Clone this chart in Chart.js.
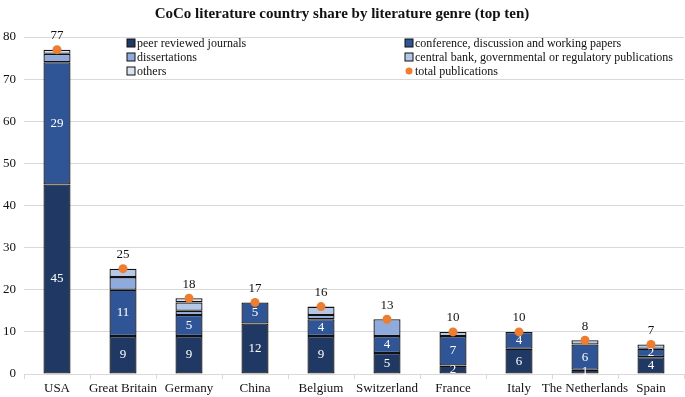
<!DOCTYPE html>
<html><head><meta charset="utf-8">
<script src="https://cdn.jsdelivr.net/npm/chart.js@4"></script>
<style>html,body{margin:0;padding:0;background:#fff}#wrap{width:685px;height:397px;position:relative}</style>
</head><body><div id="wrap"><canvas id="c"></canvas></div>
<script>
const categories = ['USA','Great Britain','Germany','China','Belgium','Switzerland','France','Italy','The Netherlands','Spain'];
const peerReviewed = [45,9,9,12,9,5,2,6,1,4];
const conference = [29,11,5,5,4,4,7,4,6,2];
const dissertations = [2,3,1,0,1,4,0,0,0,0];
const centralBank = [0,2,2,0,2,0,1,0,1,1];
const others = [1,0,1,0,0,0,0,0,0,0];
const totals = [77,25,18,17,16,13,10,10,8,7];
const yTicks = [0,10,20,30,40,50,60,70,80];

const FONT = "'Liberation Serif','Times New Roman',serif";
const colors = {peer:'#203864', conf:'#2F5597', diss:'#8FAADC', cb:'#B4C7E7', oth:'#DAE3F3', tot:'#ED7D31'};

function barSet(label, data, color, showLabels){
  return {type:'bar', label, data, backgroundColor:color, borderColor:'#111', borderWidth:1.3,
    borderSkipped:false, stack:'s', barPercentage:0.41, categoryPercentage:1, showLabels, order:2};
}

const labelPlugin = {
  id:'labels',
  afterDatasetsDraw(chart){
    const ctx = chart.ctx;
    ctx.save();
    ctx.textAlign='center'; ctx.textBaseline='middle';
    chart.data.datasets.forEach((ds,i)=>{
      const meta = chart.getDatasetMeta(i);
      if(ds.showLabels){
        ctx.fillStyle='#fff'; ctx.font="13px "+FONT;
        meta.data.forEach((el,j)=>{
          if(!ds.data[j]) return;
          const y=(el.y+el.base)/2;
          ctx.fillText(String(ds.data[j]), el.x, y);
        });
      }
      if(ds.totalLabels){
        ctx.fillStyle='#111'; ctx.font="13px "+FONT;
        meta.data.forEach((el,j)=>{
          ctx.fillText(String(ds.data[j]), el.x, el.y-14);
        });
      }
    });
    // legend
    const items = [
      ['peer reviewed journals',colors.peer,131,43,'box'],
      ['conference, discussion and working papers',colors.conf,409,43,'box'],
      ['dissertations',colors.diss,131,57,'box'],
      ['central bank, governmental or regulatory publications',colors.cb,409,57,'box'],
      ['others',colors.oth,131,71,'box'],
      ['total publications',colors.tot,409,71,'dot']
    ];
    ctx.textAlign='left'; ctx.font="12px "+FONT;
    items.forEach(([t,c,x,y,k])=>{
      if(k==='box'){
        ctx.fillStyle=c; ctx.fillRect(x-4,y-4,8,8);
        ctx.strokeStyle='#111'; ctx.lineWidth=1; ctx.strokeRect(x-4,y-4,8,8);
      } else {
        ctx.fillStyle=c; ctx.beginPath(); ctx.arc(x,y,3.5,0,Math.PI*2); ctx.fill();
      }
      ctx.fillStyle='#111'; ctx.fillText(t,x+6,y+0.5);
    });
    ctx.restore();
  }
};

new Chart(document.getElementById('c'),{
  data:{
    labels:categories,
    datasets:[
      barSet('peer reviewed journals',peerReviewed,colors.peer,true),
      barSet('conference, discussion and working papers',conference,colors.conf,true),
      barSet('dissertations',dissertations,colors.diss,false),
      barSet('central bank, governmental or regulatory publications',centralBank,colors.cb,false),
      barSet('others',others,colors.oth,false),
      {type:'line',label:'total publications',data:totals,showLine:false,pointRadius:4.5,pointHoverRadius:4.5,
       pointBackgroundColor:colors.tot,pointBorderColor:colors.tot,pointBorderWidth:0,order:1,totalLabels:true,clip:false}
    ]
  },
  options:{
    responsive:true, maintainAspectRatio:false, animation:false, devicePixelRatio:1,
    layout:{autoPadding:false,padding:{left:0,right:1,top:4,bottom:0}},
    plugins:{
      legend:{display:false}, tooltip:{enabled:false},
      title:{display:true,text:'CoCo literature country share by literature genre (top ten)',
        color:'#111',font:{family:FONT,size:15,weight:'bold'},padding:{top:1,bottom:14}}
    },
    scales:{
      x:{stacked:true, offset:true,
        afterFit(s){s.height=23; s.paddingLeft=0; s.paddingRight=0;},
        grid:{offset:true,drawOnChartArea:false,drawTicks:true,tickLength:5,color:'#d9d9d9'},
        border:{color:'#d9d9d9'},
        ticks:{color:'#111',font:{family:FONT,size:13,lineHeight:1.0},padding:3,maxRotation:0,autoSkip:false}},
      y:{stacked:true,min:0,max:80,
        afterFit(s){s.width=24;},
        afterBuildTicks(ax){ax.ticks=yTicks.map(v=>({value:v}));},
        grid:{color:'#d9d9d9',drawTicks:false},
        border:{display:false},
        ticks:{color:'#111',font:{family:FONT,size:13},padding:8}}
    }
  },
  plugins:[labelPlugin]
});
</script></body></html>
